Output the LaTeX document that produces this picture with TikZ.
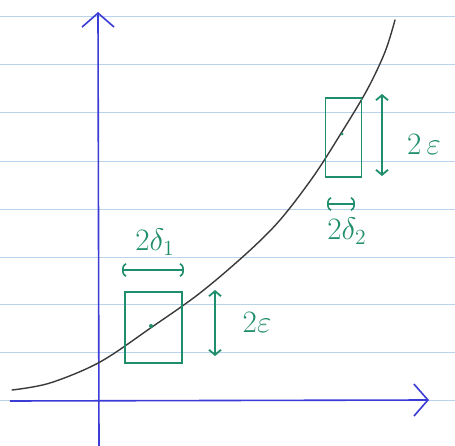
\documentclass[tikz,border=0pt]{standalone}
\usetikzlibrary{arrows.meta}
\definecolor{paperline}{HTML}{B9D3EC}
\definecolor{axisblue}{HTML}{3B3BD6}
\definecolor{pen}{HTML}{1F8E6C}
\definecolor{curvegray}{HTML}{3A3A3A}
\begin{document}
\begin{tikzpicture}[x=1pt,y=-1pt,
  ruled/.style={paperline, line width=0.8pt},
  axis/.style={axisblue, line width=1.6pt, -{Straight Barb[length=14pt,width=32pt,line width=1.6pt]}},
  boxstyle/.style={draw=pen, line width=1.8pt, inner sep=0pt},
  dimarrow/.style={pen, line width=1.8pt, {Straight Barb[length=5pt,width=12pt]}-{Straight Barb[length=5pt,width=12pt]}},
  widtharrow/.style={pen, line width=1.6pt, {Arc Barb[length=4pt,width=14pt]}-{Arc Barb[length=4pt,width=14pt]}},
  label/.style={pen, font=\huge, inner sep=1pt, scale=1.5, transform shape}]
\useasboundingbox (0,0) rectangle (455,446);
\fill[white] (0,0) rectangle (455,446);
% ruled paper
\foreach \yy in {16,64,112,161,209,257,304,352,400}
  \draw[ruled] (0,\yy) -- (455,\yy);
% axes
\coordinate (yb) at (99,446);
\coordinate (yt) at (98,12);
\coordinate (xl) at (10,401);
\coordinate (xr) at (429,400);
\draw[axis] (yb) -- (yt);
\draw[axis] (xl) -- (xr);
% curve
\draw[curvegray, line width=1.4pt, line cap=round] plot[smooth, tension=0.55] coordinates
  {(12,390) (50,383) (100,362) (152,327) (200,293) (247,253) (280,220) (313,177) (340,135) (367,90) (385,52) (395,20)};
% box 1
\node[boxstyle, minimum width=57pt, minimum height=71pt] (box1) at (153.5,327.5) {};
\fill[pen] (151,326) circle (2pt);
\coordinate (e1t) at (215,290);
\coordinate (e1b) at (215,356);
\draw[dimarrow] (e1t) -- (e1b);
\node[label] (eps1) at (257,322) {$2\varepsilon$};
\coordinate (d1l) at (122,270);
\coordinate (d1r) at (184,270);
\draw[widtharrow] (d1l) -- (d1r);
\node[label] (del1) at (155,242) {$2\delta_1$};
% box 2
\node[boxstyle, minimum width=36pt, minimum height=79pt] (box2) at (343.5,137.5) {};
\fill[pen] (342,134) circle (1.5pt);
\coordinate (e2t) at (382,94);
\coordinate (e2b) at (382,176);
\draw[dimarrow] (e2t) -- (e2b);
\node[label] (eps2) at (424,144) {$2\,\varepsilon$};
\coordinate (d2l) at (327,204);
\coordinate (d2r) at (355,204);
\draw[widtharrow] (d2l) -- (d2r);
\node[label] (del2) at (347,231) {$2\delta_2$};
\end{tikzpicture}
\end{document}
